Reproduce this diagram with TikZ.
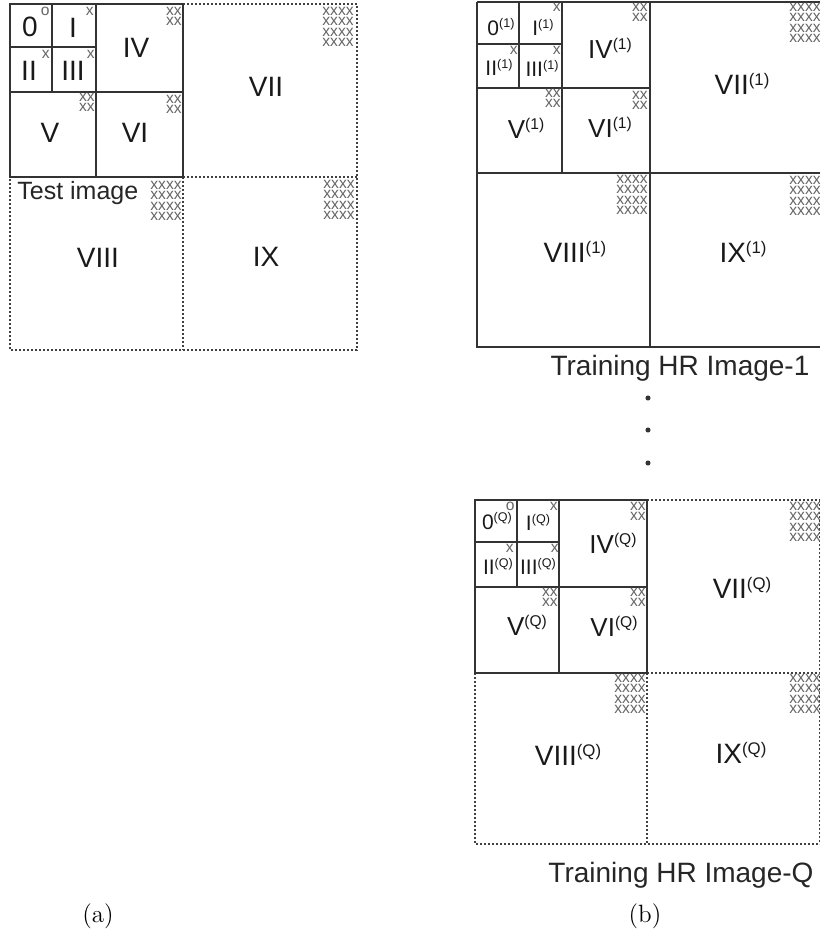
\documentclass[tikz,border=0pt]{standalone}
\usepackage{fontspec}
\setsansfont{Liberation Sans}
\newcommand{\up}[1]{\raisebox{0.34em}{\scalebox{0.6}{#1}}}
\newcommand{\twox}{xx\\xx}
\newcommand{\fourx}{xxxx\\xxxx\\xxxx\\xxxx}
\tikzset{
  edge/.style={line width=1pt, draw=black!80},
  dots/.style={line width=0.9pt, draw=black!75, dash pattern=on 0.9pt off 1.1pt},
  lblL/.style={font=\sffamily\fontsize{14}{14}\selectfont, text=black!90, inner sep=0pt},
  lblM/.style={font=\sffamily\fontsize{13}{13}\selectfont, text=black!90, inner sep=0pt},
  lblS/.style={font=\sffamily\fontsize{10.5}{11}\selectfont, text=black!90, inner sep=0pt},
  marks/.style={anchor=north east, inner sep=0pt, align=right, font=\sffamily\fontsize{7.8}{5.1}\selectfont, text=black!60},
  caption/.style={font=\sffamily\fontsize{14}{14}\selectfont, text=black!85, anchor=base, inner sep=0pt},
  sub/.style={font=\fontsize{12.5}{14}\selectfont, anchor=base, inner sep=0pt}
}
\begin{document}
\begin{tikzpicture}[x=0.5pt,y=-0.5pt]
    \useasboundingbox (0,0) rectangle (820,944);
    \clip (0,0) rectangle (820,944);
    % (a) test image
    \draw[dots] (183,4) -- (357,4) -- (357,350) -- (10,350) -- (10,177);
    \draw[dots] (183,177) -- (357,177);
    \draw[dots] (183,177) -- (183,350);
    \draw[edge] (10,4) rectangle (183,177);
    \draw[edge] (96,4) -- (96,177);
    \draw[edge] (10,92) -- (183,92);
    \draw[edge] (52,4) -- (52,92);
    \draw[edge] (10,47) -- (96,47);
    \node[lblL] (a0) at (30,27) {0};
    \node[lblL] (a1) at (73,28) {I};
    \node[lblL] (a2) at (29,71) {II};
    \node[lblL] (a3) at (73,71) {III};
    \node[lblL] (a4) at (136,48) {IV};
    \node[lblL] (a5) at (50,133) {V};
    \node[lblL] (a6) at (135,133) {VI};
    \node[lblL] (a7) at (266,87) {VII};
    \node[lblL] (a8) at (98,258) {VIII};
    \node[lblL] (a9) at (266,257) {IX};
    \node[caption, anchor=base west, font=\sffamily\fontsize{12.5}{13}\selectfont] (atest) at (17,199) {Test image};
    \node[marks] (a0m) at (50,7) {o};
    \node[marks] (a1m) at (94,7) {x};
    \node[marks] (a2m) at (50,50) {x};
    \node[marks] (a3m) at (95,50) {x};
    \node[marks] (a4m) at (182,7) {\twox};
    \node[marks] (a5m) at (95,93) {\twox};
    \node[marks] (a6m) at (182,95) {\twox};
    \node[marks] (a7m) at (354,7) {\fourx};
    \node[marks] (a8m) at (182,181) {\fourx};
    \node[marks] (a9m) at (355,180) {\fourx};
    % (b) training image 1
    \draw[edge] (477,2) -- (821,2);
    \draw[edge] (477,2) -- (477,347) -- (821,347);
    \draw[edge] (650,2) -- (650,347);
    \draw[edge] (477,173) -- (821,173);
    \draw[edge] (562,2) -- (562,173);
    \draw[edge] (477,88) -- (650,88);
    \draw[edge] (519,2) -- (519,88);
    \draw[edge] (477,44) -- (562,44);
    \node[lblS] (b0) at (501,27) {0\up{(1)}};
    \node[lblS] (b1) at (543,27) {I\up{(1)}};
    \node[lblS] (b2) at (499,67) {II\up{(1)}};
    \node[lblS] (b3) at (542,68) {III\up{(1)}};
    \node[lblM] (b4) at (610,48) {IV\up{(1)}};
    \node[lblM] (b5) at (526,128) {V\up{(1)}};
    \node[lblM] (b6) at (610,127) {VI\up{(1)}};
    \node[lblL] (b7) at (742,84) {VII\up{(1)}};
    \node[lblL] (b8) at (575,252) {VIII\up{(1)}};
    \node[lblL] (b9) at (743,252) {IX\up{(1)}};
    \node[marks] (b1m) at (561,3) {x};
    \node[marks] (b2m) at (518,46) {x};
    \node[marks] (b3m) at (561,46) {x};
    \node[marks] (b4m) at (648,3) {\twox};
    \node[marks] (b5m) at (561,89) {\twox};
    \node[marks] (b6m) at (648,91) {\twox};
    \node[marks] (b7m) at (821,3) {\fourx};
    \node[marks] (b8m) at (648,175) {\fourx};
    \node[marks] (b9m) at (821,176) {\fourx};
    \node[caption] (cap1) at (680,375) {Training HR Image-1};
    \foreach \y [count=\i] in {398,430,463}
        \node[circle, fill=black!80, inner sep=0.9pt] (dot\i) at (648,\y) {};
    % (b) training image Q
    \draw[dots] (647,500) -- (821,500);
    \draw[dots] (820,500) -- (820,844);
    \draw[dots] (647,673) -- (821,673);
    \draw[dots] (475,673) -- (475,844) -- (821,844);
    \draw[dots] (647,673) -- (647,844);
    \draw[edge] (475,500) rectangle (647,673);
    \draw[edge] (559,500) -- (559,673);
    \draw[edge] (475,587) -- (647,587);
    \draw[edge] (517,500) -- (517,587);
    \draw[edge] (475,542) -- (559,542);
    \node[lblS] (q0) at (497,521) {0\up{(Q)}};
    \node[lblS] (q1) at (538,522) {I\up{(Q)}};
    \node[lblS] (q2) at (498,566) {II\up{(Q)}};
    \node[lblS] (q3) at (538,566) {III\up{(Q)}};
    \node[lblM] (q4) at (613,543) {IV\up{(Q)}};
    \node[lblM] (q5) at (527,625) {V\up{(Q)}};
    \node[lblM] (q6) at (614,626) {VI\up{(Q)}};
    \node[lblL] (q7) at (742,588) {VII\up{(Q)}};
    \node[lblL] (q8) at (568,755) {VIII\up{(Q)}};
    \node[lblL] (q9) at (741,753) {IX\up{(Q)}};
    \node[marks] (q0m) at (515,502) {o};
    \node[marks] (q1m) at (558,502) {x};
    \node[marks] (q2m) at (514,544) {x};
    \node[marks] (q3m) at (559,544) {x};
    \node[marks] (q4m) at (646,502) {\twox};
    \node[marks] (q5m) at (558,588) {\twox};
    \node[marks] (q6m) at (646,588) {\twox};
    \node[marks] (q7m) at (821,502) {\fourx};
    \node[marks] (q8m) at (646,674) {\fourx};
    \node[marks] (q9m) at (821,674) {\fourx};
    \node[caption] (capQ) at (681,882) {Training HR Image-Q};
    \node[sub] (suba) at (98,922) {(a)};
    \node[sub] (subb) at (645,922) {(b)};
\end{tikzpicture}
\end{document}
